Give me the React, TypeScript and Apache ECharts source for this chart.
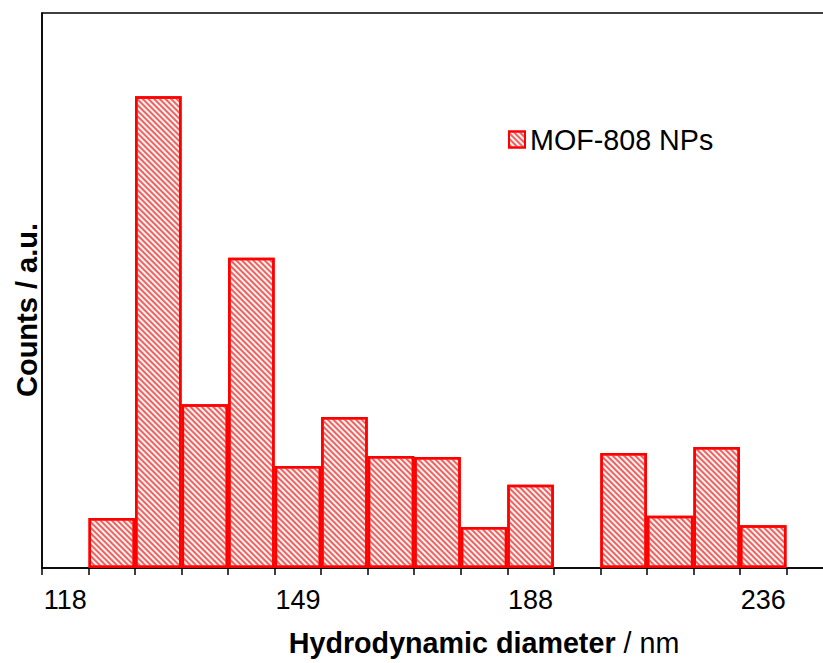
import React, { useEffect, useRef } from "react";
import * as echarts from "echarts";

// Bin labels (only every fifth bin is labelled in the reference)
const binLabels = ["118", "", "", "", "", "149", "", "", "", "", "188", "", "", "", "", "236", ""];
// Counts (a.u.) per bin; null = empty bin
const counts: (number | null)[] = [null, 9.0, 85.0, 29.5, 55.9, 18.4, 27.2, 20.2, 20.0, 7.4, 15.0, null, 20.7, 9.4, 21.8, 7.7, null];
const seriesName = "MOF-808 NPs";
const xTitleBold = "Hydrodynamic diameter";
const xTitleUnit = " / nm";
const yTitle = "Counts / a.u.";

const FONT = '"Liberation Sans", Arial, Helvetica, sans-serif';

export default function App() {
  const ref = useRef<HTMLDivElement>(null);
  useEffect(() => {
    if (!ref.current) return;
    const chart = echarts.init(ref.current, null, { renderer: "svg" });
    chart.setOption({
      animation: false,
      backgroundColor: "#ffffff",
      grid: {
        left: 42,
        top: 13,
        bottom: 95,
        right: 0,
        show: true,
        borderColor: "#000",
        borderWidth: 1.5,
        backgroundColor: "transparent",
      },
      legend: {
        data: [seriesName],
        left: 508,
        top: 125,
        padding: 0,
        itemWidth: 16,
        itemHeight: 16,
        icon: "rect",
        textStyle: { fontSize: 28.7, color: "#000", fontFamily: FONT },
      },
      xAxis: {
        type: "category",
        data: binLabels.map((_, i) => "bin" + i),
        boundaryGap: true,
        axisLine: { show: true, lineStyle: { color: "#000", width: 1.5 } },
        axisTick: { show: true, interval: 0, length: 7, lineStyle: { color: "#000", width: 1.5 } },
        axisLabel: {
          interval: 0,
          margin: 18,
          fontSize: 27,
          color: "#000",
          fontFamily: FONT,
          formatter: (_v: string, i: number) => binLabels[i],
        },
        splitLine: { show: false },
      },
      yAxis: {
        type: "value",
        min: 0,
        max: 100,
        axisLine: { show: true, lineStyle: { color: "#000", width: 1.5 } },
        axisTick: { show: false },
        axisLabel: { show: false },
        splitLine: { show: false },
      },
      series: [
        {
          name: seriesName,
          type: "bar",
          data: counts.map((v) => (v === null ? "-" : v)),
          barCategoryGap: 0,
          itemStyle: {
            color: "#fff3f0",
            borderColor: "#ff0000",
            borderWidth: 2.5,
            decal: {
              symbol: "rect",
              symbolSize: 1,
              color: "rgba(236, 82, 82, 0.9)",
              dashArrayX: [1, 0],
              dashArrayY: [2, 2],
              rotation: Math.PI / 4,
            },
          },
        },
      ],
      graphic: [
        {
          type: "text",
          x: 27,
          y: 310,
          rotation: Math.PI / 2,
          style: {
            text: yTitle,
            font: `bold 29px ${FONT}`,
            textAlign: "center",
            textVerticalAlign: "middle",
            fill: "#000",
          },
        },
        {
          type: "text",
          x: 484,
          y: 643,
          style: {
            text: `{b|${xTitleBold}}{n|${xTitleUnit}}`,
            rich: {
              b: { fontWeight: "bold", fontSize: 28.7, fontFamily: FONT, fill: "#000" },
              n: { fontWeight: "normal", fontSize: 28.7, fontFamily: FONT, fill: "#000" },
            },
            textAlign: "center",
            textVerticalAlign: "middle",
            fill: "#000",
          },
        },
      ],
    });
    return () => chart.dispose();
  }, []);
  return (
    <div
      style={{ position: "absolute", left: 0, top: 0, width: 823, height: 663, overflow: "hidden" }}
    >
      <div ref={ref} style={{ width: 832.5, height: 663 }} />
    </div>
  );
}
